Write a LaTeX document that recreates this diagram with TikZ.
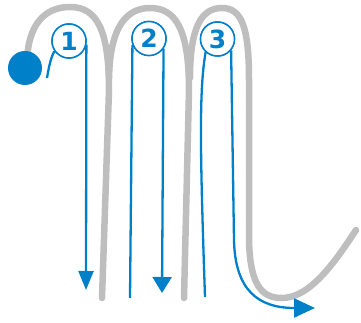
\documentclass[tikz,border=0pt]{standalone}
\usepackage{fontspec}
\newfontfamily\numfont{DejaVu Sans}
\usetikzlibrary{arrows.meta}
\definecolor{pathgray}{RGB}{190,190,190}
\definecolor{flowblue}{RGB}{0,128,200}
\tikzset{
  paper/.style={draw=pathgray, line width=6.5pt, line cap=round},
  flow/.style={draw=flowblue, line width=2.3pt},
  numcircle/.style={circle, draw=flowblue, line width=1.5pt, fill=white, minimum size=34pt, inner sep=0pt, text=flowblue, font=\numfont\bfseries\fontsize{25}{25}\selectfont},
}
\begin{document}
\begin{tikzpicture}[x=1pt,y=-1pt]
\useasboundingbox (0,0) rectangle (361,323);
% gray paper path
\draw[paper] (27,62) .. controls (28,24) and (45,7) .. (70,7) .. controls (97,7) and (109,30) .. (109,90) -- (102,298);
\draw[paper] (109,78) .. controls (110,26) and (127,8) .. (150,8) .. controls (175,8) and (189,28) .. (189,90) -- (184,298);
\draw[paper] (190,78) .. controls (190,26) and (202,8) .. (222,8) .. controls (242,8) and (249,28) .. (249,80) -- (249,240) .. controls (250,290) and (265,298) .. (282,298) .. controls (310,298) and (335,262) .. (356,230);
% circles
\node[numcircle] (c1) at (69,41) {1};
\node[numcircle] (c2) at (149,38.5) {2};
\node[numcircle] (c3) at (217.5,39) {3};
% start dot
\node[circle, fill=flowblue, minimum size=34pt, inner sep=0pt] (dot) at (25,68) {};
% end coordinates
\coordinate (s1) at (47,78);
\coordinate (e1) at (86,290);
\coordinate (e2a) at (130,298);
\coordinate (e2b) at (162,293);
\coordinate (e3a) at (205,297);
\coordinate (e3b) at (315,308);
% blue flows
\draw[flow, line cap=butt] (s1) .. controls (49,66) and (51,57) .. (c1.215);
\draw[flow, -{Triangle[width=15pt,length=19pt]}] (c1.-12) -- (e1);
\draw[flow] (c2.201) -- (e2a);
\draw[flow, -{Triangle[width=19pt,length=16pt]}] (c2.-35) -- (e2b);
\draw[flow] (c3.228) .. controls (199,90) and (200,150) .. (e3a);
\draw[flow, -{Triangle[width=19pt,length=21pt]}] (c3.-40) -- (234,240) .. controls (235,290) and (258,308) .. (e3b);
% redraw circles on top
\node[numcircle] at (c1) {1};
\node[numcircle] at (c2) {2};
\node[numcircle] at (c3) {3};
\end{tikzpicture}
\end{document}
